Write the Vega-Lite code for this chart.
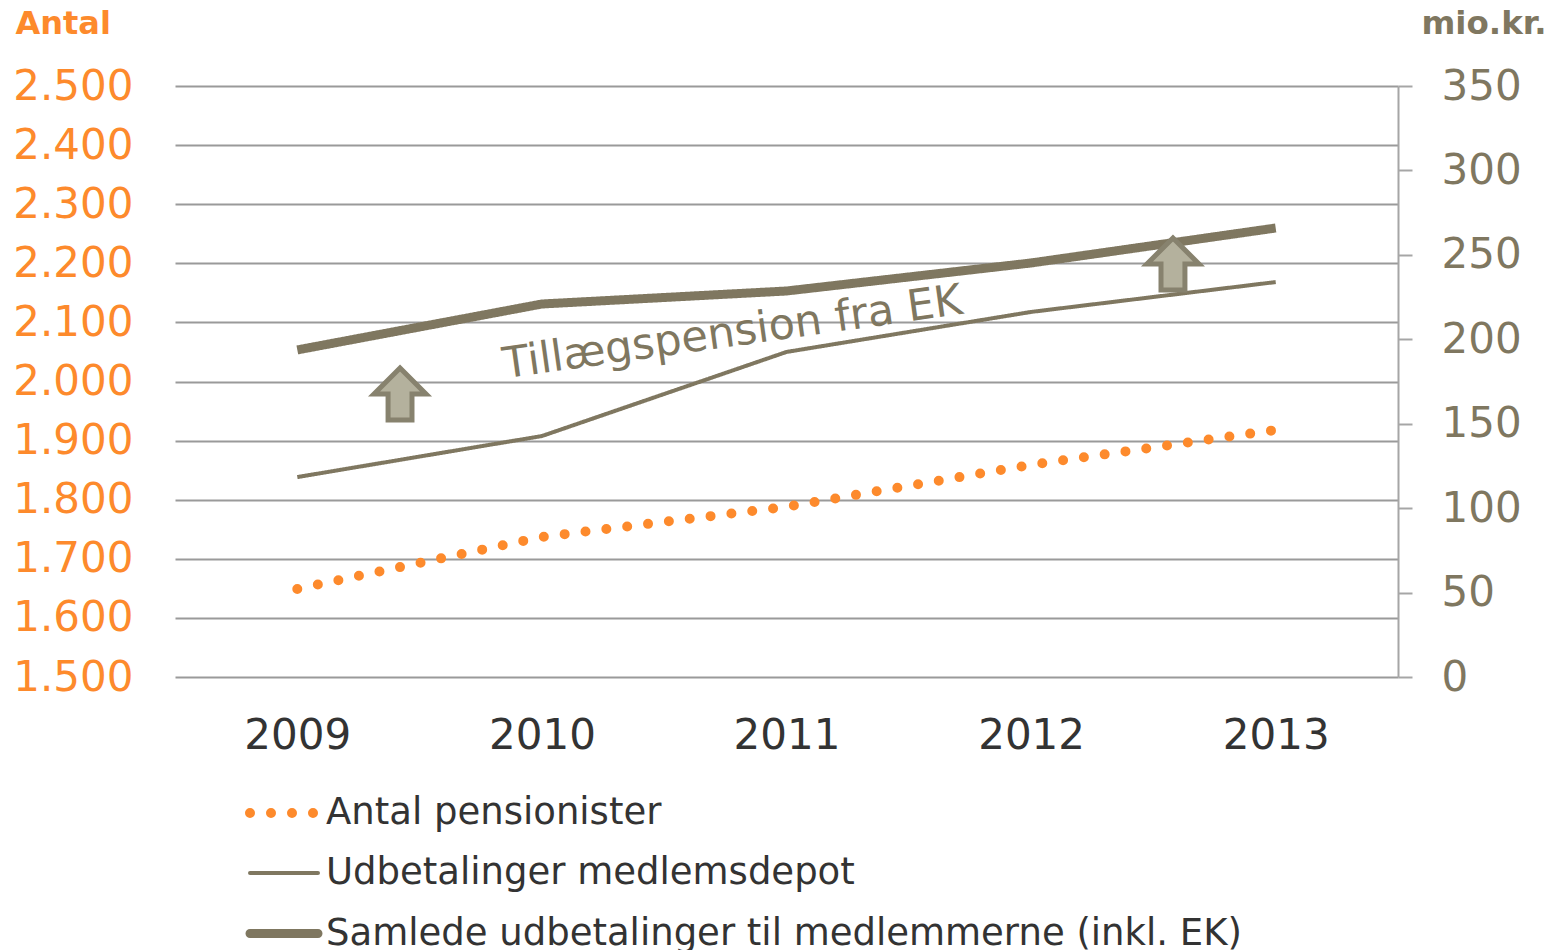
{
  "$schema": "https://vega.github.io/schema/vega-lite/v6.json",
  "width": 1223,
  "height": 591,
  "autosize": {"type": "none"},
  "padding": {"left": 175, "top": 86, "right": 164, "bottom": 273},
  "config": {
    "font": "DejaVu Sans",
    "view": {"stroke": null},
    "legend": {
      "orient": "none",
      "legendX": 70,
      "legendY": 688,
      "padding": 0,
      "labelFontSize": 37,
      "labelColor": "#333333",
      "labelFont": "DejaVu Sans",
      "labelLimit": 1200,
      "symbolSize": 4624,
      "symbolType": "stroke",
      "labelOffset": 3,
      "rowPadding": 4
    }
  },
  "datasets": {
    "series": [
      {"year": 2009, "series": "Antal pensionister", "value": 1649},
      {"year": 2010, "series": "Antal pensionister", "value": 1737},
      {"year": 2011, "series": "Antal pensionister", "value": 1788},
      {"year": 2012, "series": "Antal pensionister", "value": 1859},
      {"year": 2013, "series": "Antal pensionister", "value": 1918},
      {"year": 2009, "series": "Udbetalinger medlemsdepot", "value": 118.4},
      {"year": 2010, "series": "Udbetalinger medlemsdepot", "value": 142.7},
      {"year": 2011, "series": "Udbetalinger medlemsdepot", "value": 192.5},
      {"year": 2012, "series": "Udbetalinger medlemsdepot", "value": 216.2},
      {"year": 2013, "series": "Udbetalinger medlemsdepot", "value": 233.9},
      {"year": 2009, "series": "Samlede udbetalinger til medlemmerne (inkl. EK)", "value": 193.7},
      {"year": 2010, "series": "Samlede udbetalinger til medlemmerne (inkl. EK)", "value": 220.9},
      {"year": 2011, "series": "Samlede udbetalinger til medlemmerne (inkl. EK)", "value": 228.6},
      {"year": 2012, "series": "Samlede udbetalinger til medlemmerne (inkl. EK)", "value": 245.2},
      {"year": 2013, "series": "Samlede udbetalinger til medlemmerne (inkl. EK)", "value": 265.9}
    ],
    "arrows": [
      {"year": 2009.42, "value": 167.6},
      {"year": 2012.58, "value": 244.6}
    ],
    "notes": [
      {"year": 2010.78, "value": 203.7, "label": "Tillægspension fra EK"}
    ]
  },
  "encoding": {
    "x": {
      "field": "year",
      "type": "quantitative",
      "scale": {"domain": [2008.5, 2013.5], "nice": false, "zero": false},
      "axis": {
        "values": [2009, 2010, 2011, 2012, 2013],
        "format": "d",
        "title": null,
        "grid": false,
        "ticks": false,
        "domain": false,
        "labelFontSize": 42,
        "labelColor": "#333333",
        "labelPadding": 38,
        "labelFont": "DejaVu Sans"
      }
    }
  },
  "layer": [
    {
      "data": {"name": "series"},
      "transform": [{"filter": "datum.series === 'Antal pensionister'"}],
      "mark": {"type": "line", "strokeCap": "round"},
      "encoding": {
        "y": {
          "field": "value",
          "type": "quantitative",
          "scale": {"domain": [1500, 2500], "nice": false, "zero": false},
          "axis": {
            "orient": "left",
            "values": [1500, 1600, 1700, 1800, 1900, 2000, 2100, 2200, 2300, 2400, 2500],
            "labelExpr": "replace(format(datum.value, ','), ',', '.')",
            "grid": true,
            "gridColor": "#9a9a9a",
            "gridWidth": 2,
            "domain": false,
            "ticks": false,
            "labelFontSize": 42,
            "labelColor": "#fd8a2c",
            "labelPadding": 42,
            "labelFont": "DejaVu Sans",
            "title": "Antal",
            "titleAngle": 0,
            "titleColor": "#fd8a2c",
            "titleFontSize": 32,
            "titleFontWeight": "bold",
            "titleFont": "DejaVu Sans",
            "titleAlign": "left",
            "titleBaseline": "alphabetic",
            "titleX": -160,
            "titleY": -53
          }
        },
        "color": {
          "field": "series",
          "type": "nominal",
          "scale": {
            "domain": ["Antal pensionister", "Udbetalinger medlemsdepot", "Samlede udbetalinger til medlemmerne (inkl. EK)"],
            "range": ["#fd8a2c", "#7f7760", "#7f7760"]
          },
          "legend": {"title": null, "encoding": {"symbols": {"strokeCap": {"value": "round"}}}}
        },
        "strokeDash": {
          "field": "series",
          "type": "nominal",
          "scale": {
            "domain": ["Antal pensionister", "Udbetalinger medlemsdepot", "Samlede udbetalinger til medlemmerne (inkl. EK)"],
            "range": [[0, 21], [1, 0], [1, 0]]
          },
          "legend": {"title": null}
        },
        "strokeWidth": {
          "field": "series",
          "type": "ordinal",
          "scale": {
            "type": "ordinal",
            "domain": ["Antal pensionister", "Udbetalinger medlemsdepot", "Samlede udbetalinger til medlemmerne (inkl. EK)"],
            "range": [10, 4, 9]
          },
          "legend": {"title": null}
        }
      }
    },
    {
      "encoding": {
        "y": {
          "field": "value",
          "type": "quantitative",
          "scale": {"domain": [0, 350], "nice": false},
          "axis": {
            "orient": "right",
            "values": [0, 50, 100, 150, 200, 250, 300, 350],
            "grid": false,
            "domain": true,
            "domainColor": "#a6a6a6",
            "domainWidth": 2,
            "ticks": true,
            "tickColor": "#a6a6a6",
            "tickWidth": 2,
            "tickSize": 14,
            "labelFontSize": 42,
            "labelColor": "#7f7760",
            "labelPadding": 29,
            "labelFont": "DejaVu Sans",
            "title": "mio.kr.",
            "titleAngle": 0,
            "titleColor": "#7f7760",
            "titleFontSize": 32.5,
            "titleFontWeight": "bold",
            "titleFont": "DejaVu Sans",
            "titleAlign": "left",
            "titleBaseline": "alphabetic",
            "titleX": 23,
            "titleY": -53
          }
        }
      },
      "layer": [
        {
          "data": {"name": "series"},
          "transform": [{"filter": "datum.series !== 'Antal pensionister'"}],
          "mark": {"type": "line"},
          "encoding": {
            "color": {
              "field": "series",
              "type": "nominal",
              "scale": {
                "domain": ["Antal pensionister", "Udbetalinger medlemsdepot", "Samlede udbetalinger til medlemmerne (inkl. EK)"],
                "range": ["#fd8a2c", "#7f7760", "#7f7760"]
              },
              "legend": {"title": null, "encoding": {"symbols": {"strokeCap": {"value": "round"}}}}
            },
            "strokeDash": {
              "field": "series",
              "type": "nominal",
              "scale": {
                "domain": ["Antal pensionister", "Udbetalinger medlemsdepot", "Samlede udbetalinger til medlemmerne (inkl. EK)"],
                "range": [[0, 21], [1, 0], [1, 0]]
              },
              "legend": {"title": null}
            },
            "strokeWidth": {
              "field": "series",
              "type": "ordinal",
              "scale": {
                "type": "ordinal",
                "domain": ["Antal pensionister", "Udbetalinger medlemsdepot", "Samlede udbetalinger til medlemmerne (inkl. EK)"],
                "range": [10, 4, 9]
              },
              "legend": {"title": null}
            }
          }
        },
        {
          "data": {"name": "arrows"},
          "mark": {
            "type": "point",
            "shape": "M0,-1L1,0L0.46,0L0.46,1L-0.46,1L-0.46,0L-1,0Z",
            "filled": true,
            "fill": "#b4b19d",
            "stroke": "#87826e",
            "strokeWidth": 5,
            "strokeJoin": "miter",
            "size": 2704,
            "opacity": 1
          },
          "encoding": {}
        },
        {
          "data": {"name": "notes"},
          "mark": {
            "type": "text",
            "angle": 352,
            "fontSize": 43,
            "font": "DejaVu Sans",
            "color": "#7f7760",
            "align": "center",
            "baseline": "middle"
          },
          "encoding": {"text": {"field": "label"}}
        }
      ]
    }
  ],
  "resolve": {"scale": {"y": "independent"}}
}
